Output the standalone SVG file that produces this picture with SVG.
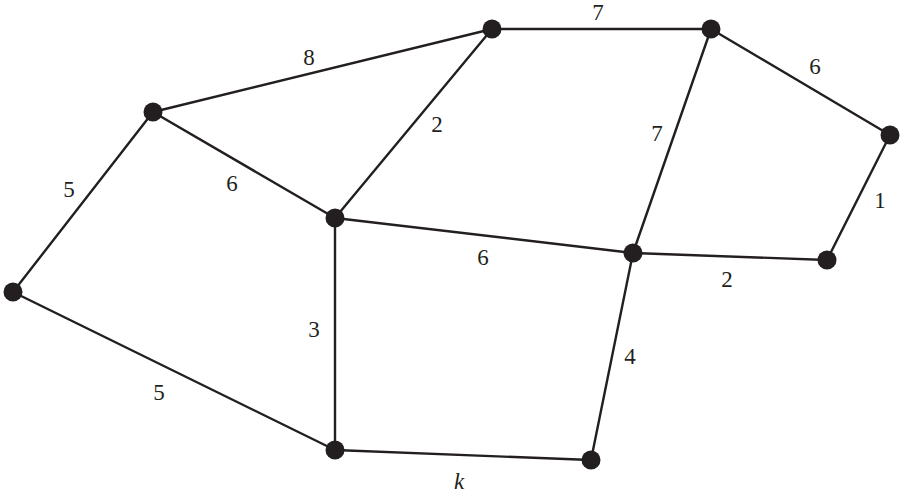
<svg xmlns="http://www.w3.org/2000/svg" width="906" height="496" viewBox="0 0 906 496">
<style>
.e{stroke:#231f20;stroke-width:2.4;fill:none;stroke-linecap:round}
.n{fill:#231f20}
.l{font-family:"Liberation Serif","Times New Roman",serif;font-size:23px;fill:#231f20;text-anchor:middle}
.k{font-style:italic}
</style>
<rect width="906" height="496" fill="#fff"/>
<g id="connectors">
<line class="e" x1="153" y1="112" x2="492" y2="29"/>
<line class="e" x1="492" y1="29" x2="711" y2="29"/>
<line class="e" x1="711" y1="29" x2="890" y2="135"/>
<line class="e" x1="890" y1="135" x2="827" y2="260"/>
<line class="e" x1="827" y1="260" x2="633" y2="253"/>
<line class="e" x1="711" y1="29" x2="633" y2="253"/>
<line class="e" x1="492" y1="29" x2="335" y2="218"/>
<line class="e" x1="153" y1="112" x2="335" y2="218"/>
<line class="e" x1="13" y1="292" x2="153" y2="112"/>
<line class="e" x1="335" y1="218" x2="633" y2="253"/>
<line class="e" x1="335" y1="218" x2="335" y2="450"/>
<line class="e" x1="13" y1="292" x2="335" y2="450"/>
<line class="e" x1="335" y1="450" x2="591" y2="460"/>
<line class="e" x1="633" y1="253" x2="591" y2="460"/>
<text class="l" x="309" y="65">8</text>
<text class="l" x="598" y="20">7</text>
<text class="l" x="815" y="74">6</text>
<text class="l" x="657" y="141">7</text>
<text class="l" x="880" y="208">1</text>
<text class="l" x="727" y="287">2</text>
<text class="l" x="483" y="265">6</text>
<text class="l" x="437" y="132">2</text>
<text class="l" x="232" y="191">6</text>
<text class="l" x="69" y="197">5</text>
<text class="l" x="159" y="400">5</text>
<text class="l" x="314" y="337">3</text>
<text class="l" x="630" y="364">4</text>
<text class="l k" x="459" y="489">k</text>
</g>
<g id="A"><circle class="n" cx="13" cy="292" r="9.5"/></g>
<g id="B"><circle class="n" cx="153" cy="112" r="9.5"/></g>
<g id="C"><circle class="n" cx="492" cy="29" r="9.5"/></g>
<g id="D"><circle class="n" cx="711" cy="29" r="9.5"/></g>
<g id="E"><circle class="n" cx="890" cy="135" r="9.5"/></g>
<g id="F"><circle class="n" cx="827" cy="260" r="9.5"/></g>
<g id="G"><circle class="n" cx="633" cy="253" r="9.5"/></g>
<g id="H"><circle class="n" cx="335" cy="218" r="9.5"/></g>
<g id="I"><circle class="n" cx="335" cy="450" r="9.5"/></g>
<g id="J"><circle class="n" cx="591" cy="460" r="9.5"/></g>
</svg>
